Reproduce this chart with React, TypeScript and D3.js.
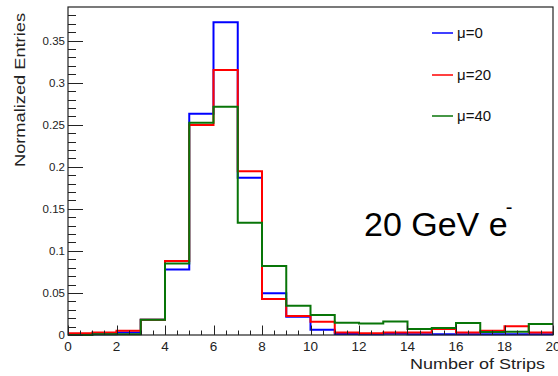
import React, { useRef, useEffect } from "react";
import * as d3 from "d3";

// bin edges are 0..20, one value per bin
const binEdges = d3.range(0, 21);
const mu0 = [0, 0.001, 0.003, 0.018, 0.078, 0.263, 0.372, 0.187, 0.0496, 0.0218, 0.0063, 0.0012, 0.001, 0.0015, 0.001, 0.001, 0.001, 0.001, 0.001, 0.001];
const mu20 = [0.002, 0.003, 0.005, 0.018, 0.088, 0.2497, 0.315, 0.1946, 0.0428, 0.0226, 0.0159, 0.003, 0.002, 0.003, 0.003, 0.007, 0.003, 0.005, 0.0103, 0.003];
const mu40 = [0, 0.001, 0.001, 0.018, 0.085, 0.2525, 0.2715, 0.1336, 0.082, 0.0349, 0.0238, 0.0145, 0.0138, 0.016, 0.007, 0.0083, 0.0143, 0.0036, 0.004, 0.013];
const seriesLabels = ["μ=0", "μ=20", "μ=40"];
const seriesColors = ["#0000ff", "#ff0000", "#087508"];
const xTicks = [0, 2, 4, 6, 8, 10, 12, 14, 16, 18, 20];
const yTicks = [0, 0.05, 0.1, 0.15, 0.2, 0.25, 0.3, 0.35];
const yTickLabels = ["0", "0.05", "0.1", "0.15", "0.2", "0.25", "0.3", "0.35"];

const App = () => {
  const svgRef = useRef(null);

  useEffect(() => {
    document.body.style.margin = "0";
    const width = 558;
    const height = 376;
    const left = 68, right = 553, top = 7, bottom = 335;

    const svg = d3.select(svgRef.current);
    svg.selectAll("*").remove();
    svg.attr("width", width).attr("height", height);

    svg.append("rect").attr("width", width).attr("height", height).attr("fill", "#fff");

    const x = d3.scaleLinear().domain([0, 20]).range([left, right]);
    const y = d3.scaleLinear().domain([0, 0.39]).range([bottom, top]);

    const font = "Liberation Sans, Arial, sans-serif";
    const axisColor = "#222";

    // histograms
    const line = d3.line<[number, number]>()
      .x(d => x(d[0]))
      .y(d => y(d[1]))
      .curve(d3.curveStepAfter);

    [mu0, mu20, mu40].forEach((vals, k) => {
      const pts: [number, number][] = vals.map((v, i) => [binEdges[i], v]);
      pts.push([binEdges[20], vals[vals.length - 1]]);
      svg.append("path")
        .attr("d", line(pts))
        .attr("fill", "none")
        .attr("stroke", seriesColors[k])
        .attr("stroke-width", 2);
    });

    // frame
    svg.append("rect")
      .attr("x", left).attr("y", top)
      .attr("width", right - left).attr("height", bottom - top)
      .attr("fill", "none").attr("stroke", axisColor).attr("stroke-width", 1.2);

    // y ticks (inside)
    const yMinor = d3.range(0, 0.385, 0.01);
    svg.append("g").selectAll("line")
      .data(yMinor)
      .join("line")
      .attr("x1", left)
      .attr("x2", (d, i) => left + (i % 5 === 0 ? 15 : 8))
      .attr("y1", d => Math.round(y(d)) + 0.5)
      .attr("y2", d => Math.round(y(d)) + 0.5)
      .attr("stroke", axisColor)
      .attr("stroke-width", 1);

    svg.append("g").selectAll("text")
      .data(yTicks)
      .join("text")
      .attr("x", left - 3)
      .attr("y", d => y(d) + 4)
      .attr("text-anchor", "end")
      .attr("font-family", font)
      .attr("font-size", 11.5)
      .attr("fill", axisColor)
      .text((d, i) => yTickLabels[i]);

    // x ticks (inside)
    const xMinor = d3.range(0, 20.01, 0.5);
    svg.append("g").selectAll("line")
      .data(xMinor)
      .join("line")
      .attr("x1", d => Math.round(x(d)) + 0.5)
      .attr("x2", d => Math.round(x(d)) + 0.5)
      .attr("y1", bottom)
      .attr("y2", (d, i) => bottom - (i % 4 === 0 ? 9.5 : 4.5))
      .attr("stroke", axisColor)
      .attr("stroke-width", 1);

    svg.append("g").selectAll("text")
      .data(xTicks)
      .join("text")
      .attr("x", d => x(d))
      .attr("y", 351)
      .attr("text-anchor", "middle")
      .attr("font-family", font)
      .attr("font-size", 13.5)
      .attr("fill", axisColor)
      .text(d => d);

    // axis titles
    svg.append("text")
      .attr("x", 545)
      .attr("y", 369)
      .attr("text-anchor", "end")
      .attr("font-family", font)
      .attr("font-size", 15)
      .attr("fill", axisColor)
      .attr("textLength", 135)
      .attr("lengthAdjust", "spacingAndGlyphs")
      .text("Number of Strips");

    svg.append("text")
      .attr("transform", "translate(25,13) rotate(-90)")
      .attr("text-anchor", "end")
      .attr("font-family", font)
      .attr("font-size", 15.5)
      .attr("fill", axisColor)
      .attr("textLength", 154)
      .attr("lengthAdjust", "spacingAndGlyphs")
      .text("Normalized Entries");

    // legend
    const legend = svg.append("g");
    const legendY = [33, 75, 116];
    seriesLabels.forEach((lab, k) => {
      legend.append("line")
        .attr("x1", 432).attr("x2", 453)
        .attr("y1", legendY[k]).attr("y2", legendY[k])
        .attr("stroke", seriesColors[k])
        .attr("stroke-width", 1.5);
      legend.append("text")
        .attr("x", 457)
        .attr("y", legendY[k] + 5)
        .attr("font-family", font)
        .attr("font-size", 15)
        .attr("fill", "#111")
        .text(lab);
    });

    // beam label
    const lbl = svg.append("text")
      .attr("x", 364)
      .attr("y", 236)
      .attr("font-family", font)
      .attr("font-size", 34)
      .attr("fill", "#000");
    lbl.append("tspan").text("20 GeV e");
    lbl.append("tspan")
      .attr("font-size", 20)
      .attr("dy", -22)
      .attr("dx", -2)
      .text("-");
  }, []);

  return <svg ref={svgRef} style={{ display: "block" }}></svg>;
};

export default App;
